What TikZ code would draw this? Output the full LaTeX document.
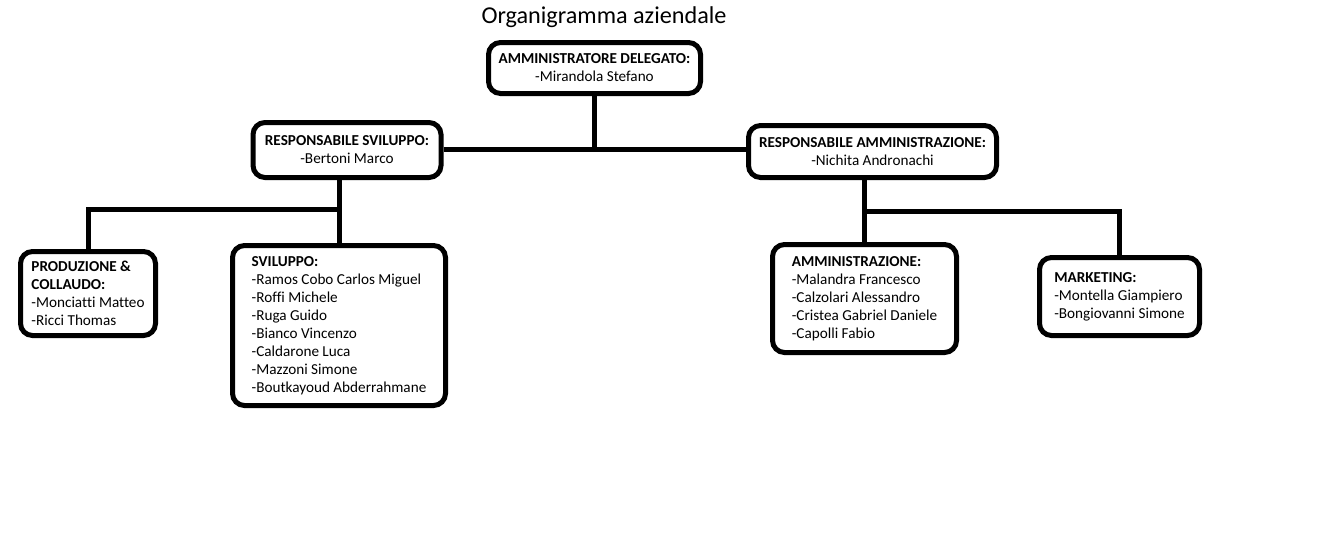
\documentclass[tikz,border=0pt]{standalone}
\usepackage{fontspec}
\setmainfont[Ligatures=NoCommon]{Carlito}

\begin{document}
\begin{tikzpicture}[x=1pt, y=-1pt,
    box/.style={draw, line width=5pt, rounded corners=12pt, fill=white, align=left, inner sep=0pt, font=\fontsize{15.2}{18}\selectfont},
    link/.style={line width=5pt}]
    \useasboundingbox (0,0) rectangle (1339,557);
                    \node[font=\fontsize{24.2}{28}\selectfont] (T) at (604,17) {Organigramma aziendale};
                    \node[box, align=center, minimum width=212pt, minimum height=51pt] (AD) at (594.5,68) {\textbf{AMMINISTRATORE DELEGATO:}\\-Mirandola Stefano};
                    \node[box, align=center, minimum width=188pt, minimum height=55pt] (RS) at (347,150) {\textbf{RESPONSABILE SVILUPPO:}\\-Bertoni Marco};
                    \node[box, align=center, minimum width=248pt, minimum height=52pt] (RA) at (872.5,151.5) {\textbf{RESPONSABILE AMMINISTRAZIONE:}\\-Nichita Andronachi};
                    \node[box, minimum width=135pt, minimum height=84pt] (PC) at (88,293.5) {\textbf{PRODUZIONE \&}\\\textbf{COLLAUDO:}\\-Monciatti Matteo\\-Ricci Thomas};
                    \node[box, minimum width=213pt, minimum height=160pt] (SV) at (339,325.5) {\textbf{SVILUPPO:}\\-Ramos Cobo Carlos Miguel\\-Roffi Michele\\-Ruga Guido\\-Bianco Vincenzo\\-Caldarone Luca\\-Mazzoni Simone\\-Boutkayoud Abderrahmane};
                    \node[box, minimum width=184pt, minimum height=108pt] (AM) at (864.5,298.5) {\textbf{AMMINISTRAZIONE:}\\-Malandra Francesco\\-Calzolari Alessandro\\-Cristea Gabriel Daniele\\-Capolli Fabio};
                    \node[box, minimum width=160pt, minimum height=78pt] (MK) at (1119.5,296.5) {\textbf{MARKETING:}\\-Montella Giampiero\\-Bongiovanni Simone};

                    \coordinate (SVfork) at (SV.north |- 0,209);
                    \coordinate (AMfork) at (AM.north |- 0,211);

                    \draw[link] (AD.south) -- (AD.south |- 0,149.5);
                    \draw[link] (RS.east |- 0,149.5) -- (RA.west |- 0,149.5);
                    \draw[link] (SV.north) -- (SV.north |- RS.south);
                    \draw[link] (PC.north) |- (SVfork);
                    \draw[link] (AM.north) -- (AM.north |- RA.south);
                    \draw[link] (MK.north) |- (AMfork);
                \end{tikzpicture}
\end{document}
